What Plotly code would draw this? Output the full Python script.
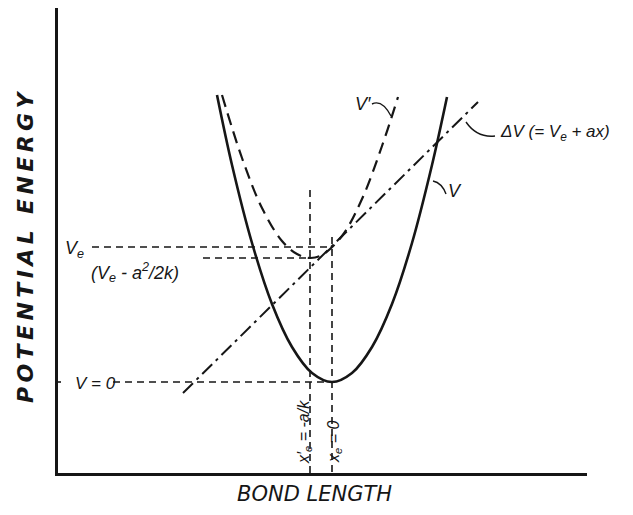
import plotly.graph_objects as go

# curve V (harmonic potential about x_e = 0)
v_x = [-1.15, -1.0, -0.8, -0.6, -0.4, -0.2, 0.0, 0.2, 0.4, 0.6, 0.8, 1.0, 1.15]
v_y = [2.87, 2.17, 1.39, 0.78, 0.35, 0.09, 0.0, 0.09, 0.35, 0.78, 1.39, 2.17, 2.85]

# curve V' (perturbed potential)
vp_x = [-1.10, -0.9, -0.7, -0.5, -0.35, -0.22, -0.1, 0.1, 0.3, 0.5, 0.66]
vp_y = [2.87, 2.24, 1.74, 1.41, 1.28, 1.24, 1.27, 1.46, 1.83, 2.36, 2.85]

# perturbation line  dV = Ve + a x
dv_x = [-1.49, 1.46]
dv_y = [-0.11, 2.80]

# reference levels
ve = 1.35          # V_e
ve_min = 1.24      # V_e - a^2/2k
xe = 0.0           # x_e
xe_p = -0.22       # x_e' = -a/k
x_lo, x_hi = -2.74, 2.55
y_lo, y_hi = -0.91, 3.74

# page has an 8px body margin, so the figure is drawn 8px in
OFF = 8
W, H = 633 - 2 * OFF, 515 - 2 * OFF
# plot box in page pixels (for placing text)
L, R, T, B = 58, 587, 8, 473


def pp(x, y):
    return (x - L) / (R - L), (B - y) / (B - T)


INK = "#161616"
FONT = "Liberation Sans"

fig = go.Figure()

ref = dict(color=INK, width=1.6, dash="7px,5px")
fig.add_trace(go.Scatter(x=[-2.40, xe], y=[ve, ve], mode="lines", line=ref))
fig.add_trace(go.Scatter(x=[-1.29, xe_p], y=[ve_min, ve_min], mode="lines", line=ref))
fig.add_trace(go.Scatter(x=[-2.19, xe], y=[0, 0], mode="lines", line=ref))
fig.add_trace(go.Scatter(x=[-2.78, -2.68], y=[0, 0], mode="lines", line=ref, cliponaxis=False))
fig.add_trace(go.Scatter(x=[xe_p, xe_p], y=[1.92, y_lo], mode="lines", line=ref))
fig.add_trace(go.Scatter(x=[xe, xe], y=[1.45, y_lo], mode="lines", line=ref))

fig.add_trace(go.Scatter(x=dv_x, y=dv_y, mode="lines",
                         line=dict(color=INK, width=2, dash="14px,5px,3px,5px")))
fig.add_trace(go.Scatter(x=vp_x, y=vp_y, mode="lines", line_shape="spline",
                         line=dict(color=INK, width=2.2, dash="12px,7px")))
fig.add_trace(go.Scatter(x=v_x, y=v_y, mode="lines", line_shape="spline",
                         line=dict(color=INK, width=2.6)))

# leader lines from labels
for p in [((372, 104), (382, 99), (391, 116)),
          ((466, 122), (477, 138), (495, 136)),
          ((433, 181), (442, 183), (446, 194))]:
    (x0, y0), (cx, cy), (x1, y1) = [pp(*q) for q in p]
    fig.add_shape(type="path", xref="paper", yref="paper",
                  path=f"M {x0},{y0} Q {cx},{cy} {x1},{y1}",
                  line=dict(color=INK, width=1.4))

labels = [
    ("<i>V′</i>", 363, 104, 18, 0, "center"),
    ("<i>ΔV (= V<sub>e</sub> + ax)</i>", 498, 133, 17, 0, "left"),
    ("<i>V</i>", 455, 191, 18, 0, "center"),
    ("<i>V<sub>e</sub></i>", 74, 249, 18, 0, "center"),
    ("<i>(V<sub>e</sub> - a<sup>2</sup>/2k)</i>", 135, 273, 18, 0, "center"),
    ("<i>V = 0</i>", 95, 383, 17, 0, "center"),
    ("<i>x′<sub>e</sub> = -a/k</i>", 304, 432, 16, -90, "center"),
    ("<i>x<sub>e</sub> = 0</i>", 334, 442, 16, -90, "center"),
]
for txt, x, y, size, ang, anc in labels:
    px_, py_ = pp(x, y)
    fig.add_annotation(x=px_, y=py_, xref="paper", yref="paper", text=txt,
                       showarrow=False, textangle=ang, xanchor=anc, yanchor="middle",
                       font=dict(family=FONT, size=size, color=INK))

sp = "\u2009"
tx, ty = pp(314, 494)
fig.add_annotation(x=tx, y=ty, xref="paper", yref="paper", text="<i>BOND LENGTH</i>",
                   showarrow=False, xanchor="center", yanchor="middle",
                   font=dict(family="DejaVu Sans", size=21, color=INK))
tx, ty = pp(26, 247)
fig.add_annotation(x=tx, y=ty, xref="paper", yref="paper",
                   text="<b><i>" + sp.join("POTENTIAL ENERGY") + "</i></b>",
                   showarrow=False, textangle=-90, xanchor="center", yanchor="middle",
                   font=dict(family="DejaVu Sans", size=22, color=INK))

fig.update_layout(
    width=W, height=H, autosize=False,
    margin=dict(l=L - OFF, r=633 - OFF - R, t=T - OFF, b=515 - OFF - B),
    paper_bgcolor="white", plot_bgcolor="white",
    showlegend=False,
    xaxis=dict(range=[x_lo, x_hi], showgrid=False, zeroline=False, showticklabels=False,
               ticks="", showline=True, linecolor=INK, linewidth=2.5),
    yaxis=dict(range=[y_lo, y_hi], showgrid=False, zeroline=False, showticklabels=False,
               ticks="", showline=True, linecolor=INK, linewidth=2.5),
)

fig.write_html("out.html")
